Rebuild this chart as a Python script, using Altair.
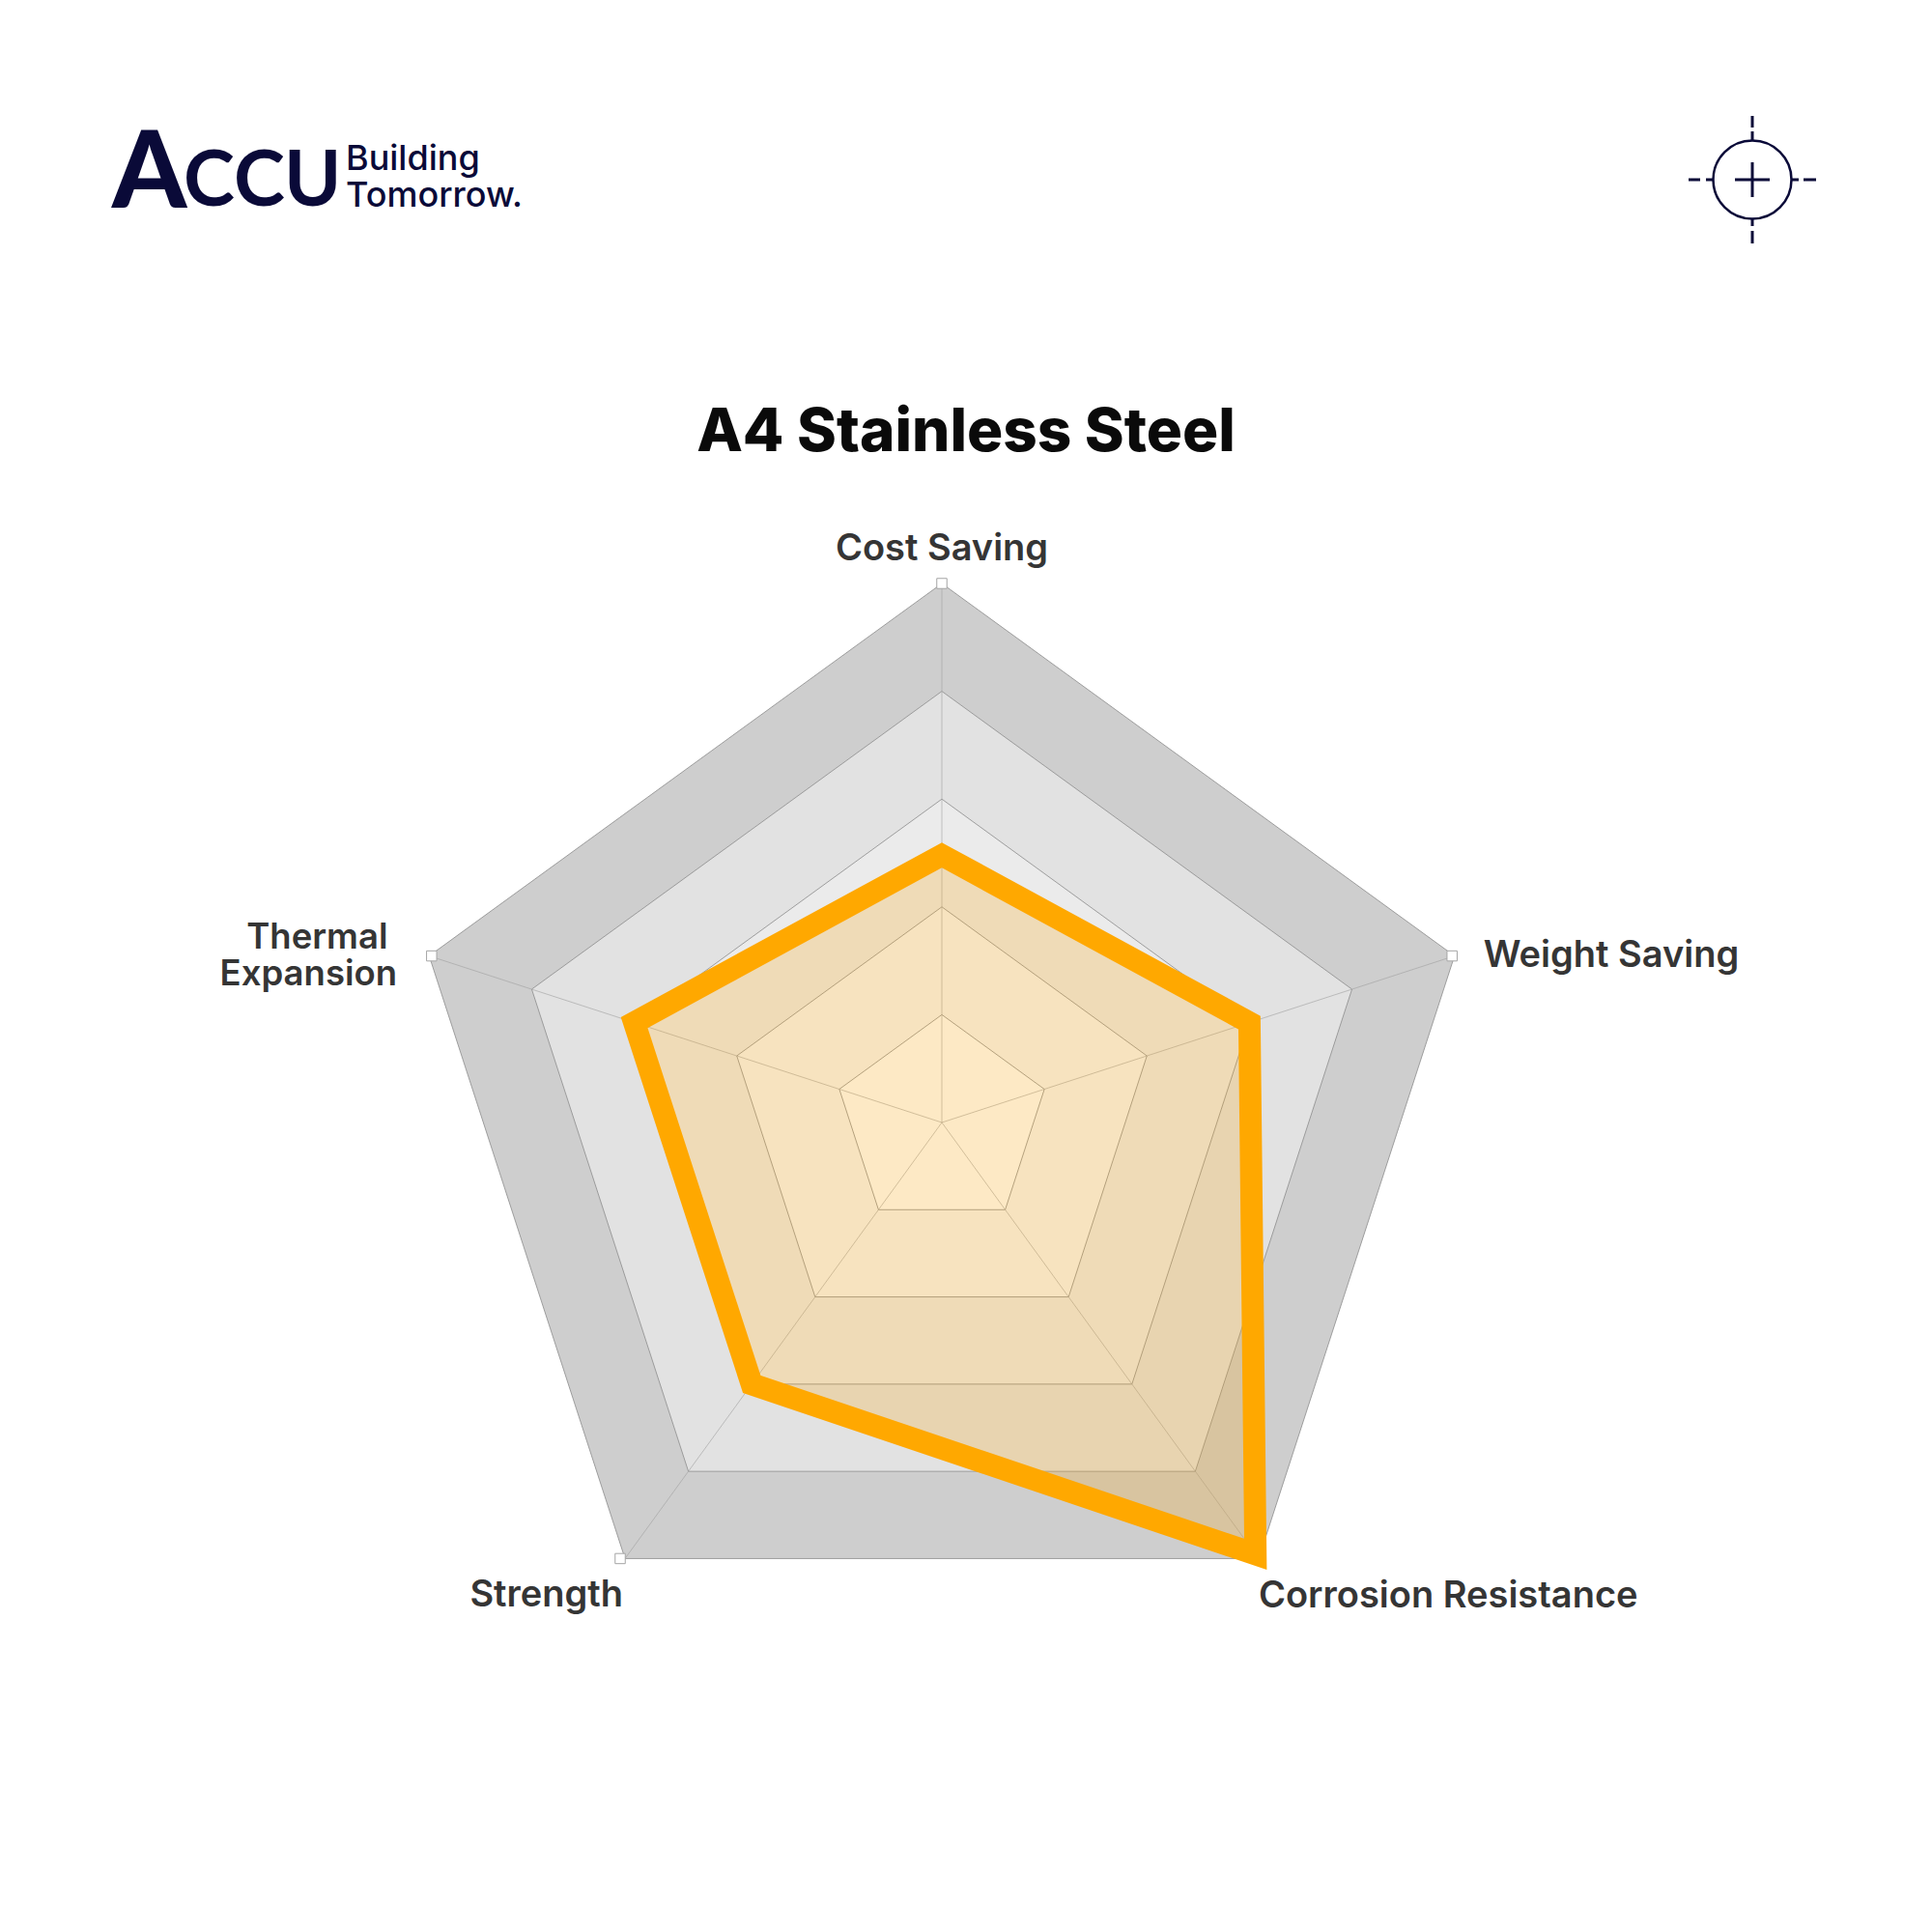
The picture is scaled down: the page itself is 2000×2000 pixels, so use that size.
import math
import altair as alt
import pandas as pd

AXES = ["Cost Saving", "Weight Saving", "Corrosion Resistance", "Strength", "Thermal Expansion"]
SCORES = [2.48, 3.0, 4.95, 3.0, 3.0]
RINGS = [5, 4, 3, 2, 1]
RING_COLORS = ["#cecece", "#e2e2e2", "#ebebeb", "#f5f5f5", "#fdfdfd"]

W, H = 1984, 1984
CX, CY = 967, 1154   # plot-area position of the radar centre
UNIT = 111.6         # pixels per score unit
x_scale = alt.Scale(domain=[-CX / UNIT, (W - CX) / UNIT], range=[0, W])
y_scale = alt.Scale(domain=[(CY - H) / UNIT, CY / UNIT], range=[H, 0])


def polar(i, v):
    a = 2 * math.pi * i / len(AXES)
    return v * math.sin(a), v * math.cos(a)


def poly(values, name):
    rows = []
    for i, v in enumerate(values):
        x, y = polar(i, v)
        rows.append({"x": x, "y": y, "k": i, "name": name})
    return pd.DataFrame(rows)


X = alt.X("x:Q", scale=x_scale, axis=None)
Y = alt.Y("y:Q", scale=y_scale, axis=None)
layers = []

for r, c in zip(RINGS, RING_COLORS):
    layers.append(alt.Chart(poly([r] * 5, f"r{r}")).mark_line(
        interpolate="linear-closed", fill=c, stroke="#909090", strokeWidth=1, strokeOpacity=0.85
    ).encode(x=X, y=Y, order="k:Q"))

spokes = []
for i, a in enumerate(AXES):
    for v in (0, 5):
        x, y = polar(i, v)
        spokes.append({"x": x, "y": y, "axis": a, "k": v})
layers.append(alt.Chart(pd.DataFrame(spokes)).mark_line(stroke="#a0a0a0", strokeWidth=1, strokeOpacity=0.6).encode(
    x=X, y=Y, detail="axis:N", order="k:Q"))

for i, off in ((0, 0), (1, -2.5), (3, -5), (4, 2.5)):
    m = pd.DataFrame([dict(zip(("x", "y"), polar(i, 5)))])
    layers.append(alt.Chart(m).mark_square(size=110, fill="white", stroke="#a5a5a5", strokeWidth=1, opacity=1,
                                           xOffset=off, cornerRadius=2).encode(x=X, y=Y))

layers.append(alt.Chart(poly(SCORES, "A4")).mark_line(
    interpolate="linear-closed", fill="#ffa500", fillOpacity=0.22, stroke="#ffa800", strokeWidth=23,
    strokeJoin="miter", strokeMiterLimit=10
).encode(x=X, y=Y, order="k:Q"))

LABEL = dict(font="Inter", fontSize=38, fontWeight=600, color="#353535", baseline="middle")


def lab(text, i, align, dx, dy, size=38):
    x, y = polar(i, 5)
    style = {**LABEL, "fontSize": size}
    return alt.Chart(pd.DataFrame([{"x": x, "y": y, "t": text}])).mark_text(align=align, dx=dx, dy=dy, **style).encode(
        x=X, y=Y, text="t:N")


layers += [
    lab("Cost Saving", 0, "center", 0, -35),
    lab("Weight Saving", 1, "left", 30, 0),
    lab("Corrosion Resistance", 2, "left", 0, 40),
    lab("Strength", 3, "right", -2, 39),
    lab("Thermal", 4, "center", -116, -19, 36.5),
    lab("Expansion", 4, "center", -125, 19, 36.5),
]

# brand mark and tagline
NAVY = "#0a0a38"


def brand(text, px, py, size, weight, font="Inter"):
    return alt.Chart(pd.DataFrame([{"t": text}])).mark_text(
        font=font, fontSize=size, fontWeight=weight, color=NAVY, align="left", baseline="alphabetic"
    ).encode(x=alt.value(px), y=alt.value(py), text="t:N")


layers += [
    brand("A", 108, 207, 110, 900, "Lato"),
    brand("C", 182, 205, 80, 700, "Lato"),
    brand("C", 234, 205, 80, 700, "Lato"),
    brand("U", 286, 205, 80, 700, "Lato"),
    brand("Building", 350, 168, 36, 500),
    brand("Tomorrow.", 350, 206, 36, 500),
]

# crosshair icon
IX, IY = 1806, 178


def seg(x1, y1, x2, y2, width=3):
    return alt.Chart(pd.DataFrame([{"a": 1}])).mark_rule(color=NAVY, strokeWidth=width).encode(
        x=alt.value(IX + x1), x2=alt.value(IX + x2), y=alt.value(IY + y1), y2=alt.value(IY + y2))


layers.append(alt.Chart(pd.DataFrame([{"a": 1}])).mark_point(
    shape="circle", size=81 ** 2, filled=False, stroke=NAVY, strokeWidth=2.5, opacity=1
).encode(x=alt.value(IX), y=alt.value(IY)))
layers += [
    seg(-18, 0, 18, 0), seg(0, -18, 0, 18),
    seg(-66, 0, -54, 0), seg(-48, 0, -41, 0),
    seg(41, 0, 48, 0), seg(53, 0, 66, 0),
    seg(0, -66, 0, -54), seg(0, -50, 0, -41),
    seg(0, 41, 0, 48), seg(0, 53, 0, 66),
]

chart = alt.layer(*layers).properties(
    width=W, height=H, padding=0, autosize=alt.AutoSizeParams(type="none"),
    title=alt.TitleParams("A4 Stainless Steel", font="Inter", fontSize=62, fontWeight=800, color="#0a0a0a",
                          anchor="middle", dy=521, offset=0, baseline="alphabetic"),
    background="white",
).configure_view(stroke=None)

chart.save("out.html", embed_options={"renderer": "svg", "actions": False})
